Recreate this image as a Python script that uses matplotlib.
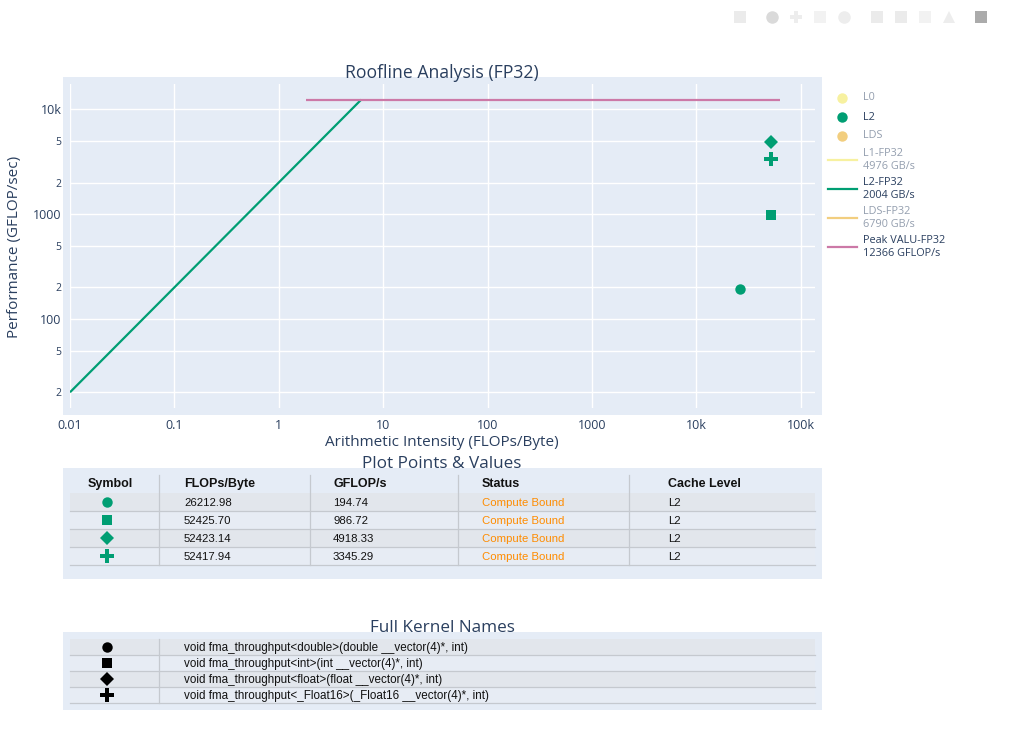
import numpy as np
import matplotlib.pyplot as plt
from matplotlib.patches import Rectangle

W, H = 1011, 742
TXT = '#2a3f5f'
BG = '#E5ECF6'

# roofline ceilings
peak_name = 'Peak VALU-FP32'
peak_gflops = 12366
peak_x = [1.82, 64000]
peak_color = '#CC79A7'
ai_start = 0.01
bw_names = ['L1-FP32', 'L2-FP32', 'LDS-FP32']
bw_values = [4976, 2004, 6790]
bw_colors = ['#F0E442', '#009E73', '#E69F00']
bw_visible = [False, True, False]

# cache level point groups (legend)
cache_names = ['L0', 'L2', 'LDS']
cache_colors = ['#F0E442', '#009E73', '#E69F00']
cache_visible = [False, True, False]

# kernels
kernel_names = [
    'void fma_throughput<double>(double __vector(4)*, int)',
    'void fma_throughput<int>(int __vector(4)*, int)',
    'void fma_throughput<float>(float __vector(4)*, int)',
    'void fma_throughput<_Float16>(_Float16 __vector(4)*, int)',
]
symbols = ['o', 's', 'D', 'P']
flops_byte = [26212.98, 52425.70, 52423.14, 52417.94]
gflops = [194.74, 986.72, 4918.33, 3345.29]
status = ['Compute Bound'] * 4
cache_level = ['L2'] * 4
point_color = '#009E73'

yticks = [20, 50, 100, 200, 500, 1000, 2000, 5000, 10000]
ytick_labels = ['2', '5', '100', '2', '5', '1000', '2', '5', '10k']
xticks = [0.01, 0.1, 1, 10, 100, 1000, 10000, 100000]
xtick_labels = ['0.01', '0.1', '1', '10', '100', '1000', '10k', '100k']

marker_size = {'o': 7.5, 's': 7.5, 'D': 6.8, 'P': 9.5}

plt.rcParams['font.family'] = ['Open Sans', 'DejaVu Sans']

fig = plt.figure(figsize=(W / 100, H / 100), dpi=100)

# overlay in pixel coords for backgrounds, legend and tables
ov = fig.add_axes([0, 0, 1, 1], zorder=0)
ov.set_xlim(0, W)
ov.set_ylim(H, 0)
ov.axis('off')

# faint modebar
mb = [(740, 's', '#EBEBEB'), (772, 'o', '#DADADA'), (796, 'P', '#EDEDED'),
      (820, 's', '#F2F2F2'), (844, 'o', '#EDEDED'), (877, 's', '#EBEBEB'),
      (901, 's', '#EBEBEB'), (925, 's', '#F2F2F2'), (949, '^', '#EDEDED'),
      (981, 's', '#ABABAB')]
for mx, mm, mc in mb:
    ov.plot(mx, 17, marker=mm, color=mc, ms=9, mew=0)

ov.add_patch(Rectangle((63, 77), 822 - 63, 415 - 77, color=BG, lw=0))

ax = fig.add_axes([70 / W, 1 - 408 / H, 745 / W, 324 / H], zorder=2)
ax.set_facecolor(BG)
ax.set_xscale('log')
ax.set_yscale('log')
ax.set_xlim(ai_start, 10 ** 5.137)
ax.set_ylim(10 ** 1.152, 10 ** 4.241)
for s in ax.spines.values():
    s.set_visible(False)

for name, bw, col, vis in zip(bw_names, bw_values, bw_colors, bw_visible):
    if vis:
        ax.plot([ai_start, peak_gflops / bw], [bw * ai_start, peak_gflops],
                color=col, lw=1.6, solid_capstyle='butt')
ax.plot(peak_x, [peak_gflops, peak_gflops], color=peak_color, lw=1.6,
        solid_capstyle='butt')

for x, y, m in zip(flops_byte, gflops, symbols):
    ax.plot(x, y, marker=m, color=point_color, ms=marker_size[m], ls='none', mew=0)

ax.set_xticks(xticks)
ax.set_xticklabels(xtick_labels)
ax.set_yticks(yticks)
ax.set_yticklabels(ytick_labels)
ax.minorticks_off()
ax.tick_params(length=0, colors=TXT, labelsize=9)
ax.tick_params(axis='y', pad=6)
ax.tick_params(axis='x', pad=8)
for lab in ax.get_yticklabels():
    if lab.get_text() in ('2', '5'):
        lab.set_fontsize(7.5)
ax.grid(True, color='white', lw=1)
ax.set_axisbelow(True)

fig.text(442 / W, 1 - 73 / H, 'Roofline Analysis (FP32)', ha='center', va='center',
         fontsize=12.7, color=TXT)
fig.text(442 / W, 1 - 443 / H, 'Arithmetic Intensity (FLOPs/Byte)', ha='center',
         va='center', fontsize=11, color=TXT)
fig.text(15 / W, 1 - 247 / H, 'Performance (GFLOP/sec)', ha='center', va='center',
         rotation=90, fontsize=11, color=TXT)

# legend
ly = 98
for name, col, vis in zip(cache_names, cache_colors, cache_visible):
    a = 1 if vis else 0.5
    ov.plot(842, ly, marker='o', color=col, ms=7.5, alpha=a, mew=0)
    ov.text(863, ly, name, fontsize=7.8, color=TXT, alpha=a, va='center')
    ly += 19
ly = 160
for name, bw, col, vis in zip(bw_names, bw_values, bw_colors, bw_visible):
    a = 1 if vis else 0.5
    ov.plot([828, 857], [ly, ly], color=col, lw=1.6, alpha=a)
    ov.text(863, ly, name + '\n' + str(bw) + ' GB/s', fontsize=7.8, color=TXT,
            alpha=a, va='center', linespacing=1.2)
    ly += 29
ov.plot([828, 857], [ly, ly], color=peak_color, lw=1.6)
ov.text(863, ly, peak_name + '\n' + str(peak_gflops) + ' GFLOP/s', fontsize=7.8,
        color=TXT, va='center', linespacing=1.2)

# table 1: plot points
LINE = '#C5C9CF'
ROWS = ['#E2E6EC', '#E7ECF4']
body_font = ['Liberation Sans', 'DejaVu Sans']

ov.add_patch(Rectangle((63, 468), 822 - 63, 579 - 468, color=BG, lw=0))
ov.text(442, 464, 'Plot Points & Values', ha='center', va='center', fontsize=12.3,
        color=TXT)
headers = ['Symbol', 'FLOPs/Byte', 'GFLOP/s', 'Status', 'Cache Level']
col_x = [184, 333, 482, 668]
seps = [159, 310, 458, 629]
ov.text(110, 484, headers[0], ha='center', va='center', fontsize=9,
        fontweight='bold', family=body_font, color='#111111')
for hx, h in zip(col_x, headers[1:]):
    ov.text(hx, 484, h, ha='left', va='center', fontsize=9, fontweight='bold',
            family=body_font, color='#111111')
top, rh = 493, 18
for i in range(len(flops_byte)):
    y0 = top + rh * i
    ov.add_patch(Rectangle((70, y0), 745, rh, color=ROWS[i % 2], lw=0))
    ov.plot([70, 815], [y0 + rh, y0 + rh], color=LINE, lw=0.9)
    yc = y0 + rh / 2
    ov.plot(107, yc, marker=symbols[i], color=point_color,
            ms=marker_size[symbols[i]], mew=0)
    vals = ['%.2f' % flops_byte[i], '%.2f' % gflops[i], status[i], cache_level[i]]
    cols = ['#111111', '#111111', '#FF8C00', '#111111']
    for vx, v, c in zip(col_x, vals, cols):
        ov.text(vx, yc + 0.5, v, ha='left', va='center', fontsize=8.2, family=body_font,
                color=c)
for sx in seps:
    ov.plot([sx, sx], [475, top + rh * len(flops_byte)], color=LINE, lw=0.9)

# table 2: kernel names
ov.add_patch(Rectangle((63, 632), 822 - 63, 710 - 632, color=BG, lw=0))
ov.text(442, 628, 'Full Kernel Names', ha='center', va='center', fontsize=12.3,
        color=TXT)
top, rh = 639, 16
for i, kn in enumerate(kernel_names):
    y0 = top + rh * i
    ov.add_patch(Rectangle((70, y0), 745, rh, color=ROWS[i % 2], lw=0))
    ov.plot([70, 815], [y0 + rh, y0 + rh], color=LINE, lw=0.9)
    yc = y0 + rh / 2
    ov.plot(107, yc, marker=symbols[i], color='black', ms=marker_size[symbols[i]],
            mew=0)
    ov.text(184, yc + 0.5, kn, ha='left', va='center', fontsize=8.4, family=body_font,
            color='#111111')
ov.plot([159, 159], [top, top + rh * len(kernel_names)], color=LINE, lw=0.9)

fig.savefig('out.png', dpi=100)
